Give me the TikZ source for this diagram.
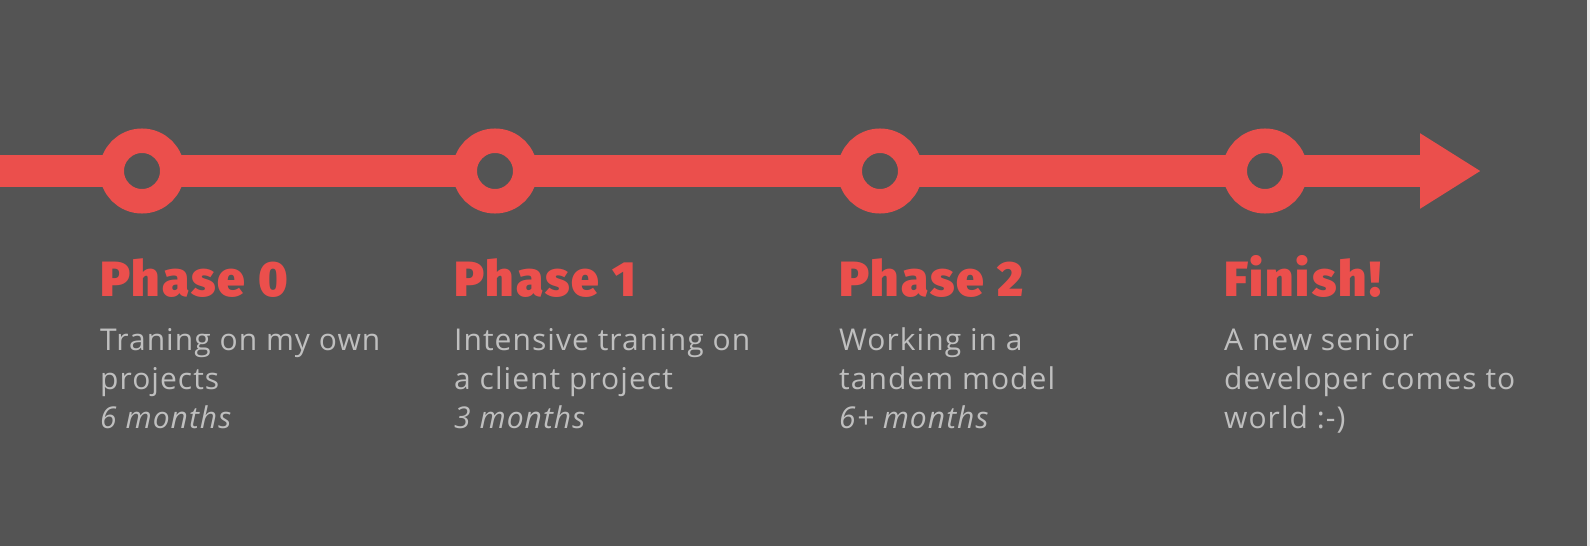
\documentclass[tikz,border=0pt]{standalone}
\usepackage{fontspec}
\setmainfont{Open Sans}[LetterSpace=3.5]
\newfontfamily\headfont{Fira Sans Black}[LetterSpace=4.5]
\usetikzlibrary{arrows.meta}
\definecolor{bg}{HTML}{545454}
\definecolor{track}{HTML}{EB4F4C}
\definecolor{notegray}{HTML}{BFBFBF}
\definecolor{edgegray}{HTML}{E6E6E6}
\newcommand{\phaselabel}[6]{
\node[title] (#1title) at (#2,296) {#3};
\node[note] (#1line1) at (#2,350) {#4};
\node[note] (#1line2) at (#2,389) {#5};
\node[note] (#1line3) at (#2,428) {#6};
}

\begin{document}
\begin{tikzpicture}[x=1pt, y=-1pt,
% time line
bar/.style={draw=track, line width=32pt},
stop/.style={circle, draw=track, fill=bg, line width=24.5pt, minimum size=60.5pt, inner sep=0, outer sep=0},
% labels
title/.style={anchor=base west, inner sep=0, text=track, font=\headfont\fontsize{49.5}{49.5}\selectfont},
note/.style={anchor=base west, inner sep=0, text=notegray, font=\fontsize{30}{30}\selectfont}
]

\useasboundingbox (0,0) rectangle (1590,546);
\fill[bg] (0,0) rectangle (1590,546);
\fill[edgegray] (1587,0) rectangle (1590,546);

% stops on the time line
\node[stop] (p0) at (142,171) {};
\node[stop] (p1) at (495,171) {};
\node[stop] (p2) at (880,171) {};
\node[stop] (fin) at (1265,171) {};
\coordinate (start) at (0,171);
\coordinate (tip) at (1481,171);

\draw[bar] (start) -- (p0) (p0) -- (p1) (p1) -- (p2) (p2) -- (fin);
\draw[bar, -{Triangle[length=61pt, width=71pt]}] (fin) -- (tip);

% phase texts
\phaselabel{p0}{100}{Phase 0}{Traning on my own}{projects}{\textit{6 months}}
\phaselabel{p1}{454}{Phase 1}{Intensive traning on}{a client project}{\textit{3 months}}
\phaselabel{p2}{839}{Phase 2}{Working in a}{tandem model}{\textit{6+ months}}
\phaselabel{fin}{1224}{Finish!}{A new senior}{developer comes to}{world :-)}

\end{tikzpicture}
\end{document}
